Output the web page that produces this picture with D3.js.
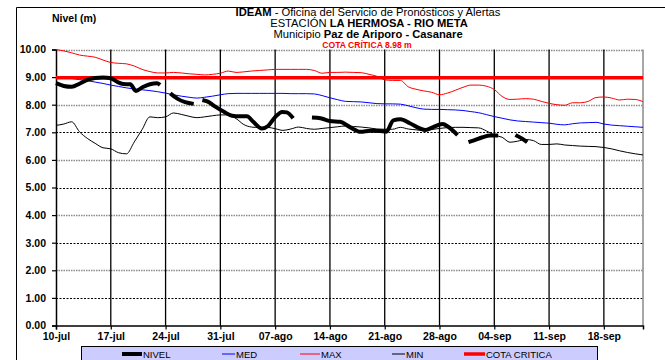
<!DOCTYPE html>
<html><head><meta charset="utf-8">
<script src="https://cdn.jsdelivr.net/npm/d3@7"></script>
<style>
html,body{margin:0;padding:0;background:#fff;}
svg{display:block;font-family:"Liberation Sans",Arial,sans-serif;}
</style></head>
<body>
<svg id="c" width="665" height="360"></svg>
<script>
// ---- data ----
const xTickDays = [0,7,14,21,28,35,42,49,56,63,70];
const xTickLabels = ["10-jul","17-jul","24-jul","31-jul","07-ago","14-ago","21-ago","28-ago","04-sep","11-sep","18-sep"];
const yTicks = [0,1,2,3,4,5,6,7,8,9,10];
const cotaCritica = 8.98;

// daily climatology, day 0 = 10-jul ... day 75 = 23-sep
const maxSeries = [10.00,9.95,9.88,9.80,9.76,9.72,9.62,9.53,9.50,9.48,9.40,9.28,9.20,9.15,9.15,9.17,9.15,9.12,9.10,9.08,
 9.10,9.14,9.22,9.17,9.19,9.22,9.24,9.26,9.28,9.28,9.28,9.28,9.28,9.24,9.14,9.17,9.17,9.18,9.17,9.16,
 9.10,9.03,8.90,8.88,8.88,8.65,8.56,8.50,8.45,8.36,8.42,8.52,8.63,8.71,8.71,8.67,8.55,8.30,8.19,8.20,
 8.22,8.20,8.12,8.05,8.00,7.98,8.07,8.07,8.12,8.26,8.28,8.24,8.17,8.20,8.19,8.11];
const medSeries = [8.98,8.97,8.95,8.91,8.87,8.82,8.77,8.71,8.66,8.61,8.57,8.54,8.51,8.47,8.42,8.36,8.31,8.27,8.24,8.27,
 8.31,8.36,8.40,8.41,8.41,8.41,8.41,8.41,8.41,8.41,8.40,8.40,8.40,8.39,8.33,8.25,8.18,8.12,8.11,8.10,
 8.07,8.04,8.03,8.03,8.02,7.96,7.89,7.84,7.83,7.83,7.82,7.81,7.79,7.75,7.71,7.64,7.57,7.51,7.45,7.41,
 7.39,7.37,7.35,7.33,7.29,7.27,7.31,7.34,7.35,7.36,7.30,7.26,7.24,7.22,7.20,7.18];
const minSeries = [7.25,7.30,7.38,7.02,6.78,6.60,6.44,6.40,6.26,6.22,6.65,7.10,7.56,7.53,7.56,7.70,7.65,7.58,7.53,7.56,
 7.60,7.63,7.63,7.50,7.28,7.19,7.17,7.18,7.13,7.07,7.12,7.19,7.14,7.11,7.14,7.17,7.20,7.23,7.21,7.19,
 7.16,7.12,7.11,7.11,7.18,7.12,7.09,7.06,7.10,7.14,7.17,7.18,7.18,7.17,7.16,7.05,6.90,6.82,6.64,6.68,
 6.74,6.70,6.56,6.56,6.58,6.54,6.52,6.50,6.49,6.48,6.45,6.40,6.33,6.27,6.22,6.18];

// observed level (null = no data)
const nivelDay = [0,1,2,3,4,5,6,7,7.8,8.6,9.5,10.2,11.1,12,12.9,13.3,13.9,
 14.6,15.5,16.5,17.6,18.1,
 18.7,19.4,20.4,21.4,22.5,23.5,24.4,25.2,26.3,27.1,28,28.9,29.5,30.3,31.5,
 32.7,33.8,35,36.3,37.6,38.9,40.2,41.4,42.2,43.1,44,45.2,46.5,47.2,48.1,49.4,50.1,51.3,52,
 52.7,53.5,54.5,55.5,56.5,57.5,
 58.7,59.5,60.2];
const nivelValue = [8.78,8.68,8.65,8.76,8.90,8.97,8.99,8.96,8.83,8.75,8.74,8.50,8.64,8.74,8.78,8.72,null,
 8.41,8.22,8.09,8.03,null,
 8.17,8.11,7.92,7.75,7.60,7.58,7.58,7.38,7.14,7.23,7.55,7.74,7.72,7.51,null,
 7.54,7.51,7.41,7.38,7.18,7.02,7.06,7.05,7.02,7.43,7.47,7.33,7.14,7.08,7.18,7.30,7.20,6.90,null,
 6.64,6.72,6.82,6.88,6.88,null,
 6.90,6.78,6.64];

const legendItems = ["NIVEL","MED","MAX","MIN","COTA CRITICA"];
const legendColors = ["#000000","#0000ff","#ff0000","#000000","#ff0000"];

// ---- drawing ----
const svg = d3.select("#c");
const x = d3.scaleLinear().domain([0,75]).range([56,643]);
const y = d3.scaleLinear().domain([0,10]).range([325.5,49.5]);

// outer frame
svg.append("line").attr("x1",16.5).attr("x2",665).attr("y1",7.5).attr("y2",7.5).attr("stroke","#000").attr("stroke-width",1);
svg.append("line").attr("x1",16.5).attr("x2",16.5).attr("y1",7.5).attr("y2",360).attr("stroke","#000").attr("stroke-width",1);

// horizontal gridlines
svg.append("g").selectAll("line").data(yTicks.filter(d=>d>0)).join("line")
  .attr("x1",x(0)).attr("x2",x(75)).attr("y1",d=>Math.round(y(d))+0.5).attr("y2",d=>Math.round(y(d))+0.5)
  .attr("stroke",d=>d%2===0?"#8a8a8a":"#000")
  .attr("stroke-width",d=>d%2===0?1.6:1)
  .attr("stroke-dasharray",d=>d%2===0?"1.5,1":"2,1.5");

// vertical gridlines
svg.append("g").selectAll("line").data(xTickDays.filter(d=>d>0)).join("line")
  .attr("x1",d=>x(d)).attr("x2",d=>x(d)).attr("y1",y(10)).attr("y2",y(0))
  .attr("stroke","#000").attr("stroke-width",1.3);
// right border
svg.append("line").attr("x1",x(75)).attr("x2",x(75)).attr("y1",y(10)).attr("y2",y(0))
  .attr("stroke","#8a8a8a").attr("stroke-width",1.5);

// axes
const yAxis = d3.axisLeft(y).tickValues(yTicks).tickFormat(d3.format(".2f")).tickSize(4).tickPadding(6);
const gy = svg.append("g").attr("transform",`translate(${x(0)},0)`).call(yAxis);
gy.select(".domain").attr("stroke","#000").attr("stroke-width",1.5);
gy.selectAll(".tick line").attr("stroke","#000").attr("stroke-width",1.2);
gy.selectAll(".tick text").attr("font-size",10.5).attr("font-weight","bold").attr("fill","#000")
  .attr("font-family","Liberation Sans, Arial, sans-serif");

const xAxis = d3.axisBottom(x).tickValues(xTickDays).tickFormat((d,i)=>xTickLabels[i]).tickSize(4).tickPadding(3);
const gx = svg.append("g").attr("transform",`translate(0,${y(0)})`).call(xAxis);
gx.select(".domain").attr("stroke","#000").attr("stroke-width",1.5);
gx.selectAll(".tick line").attr("stroke","#000").attr("stroke-width",1.2);
gx.selectAll(".tick text").attr("font-size",10.5).attr("font-weight","bold").attr("fill","#000")
  .attr("font-family","Liberation Sans, Arial, sans-serif");

// series
const lineGen = d3.line().x(d=>x(d[0])).y(d=>y(d[1])).curve(d3.curveMonotoneX);
const days = d3.range(76);
svg.append("path").datum(days.map(d=>[d,maxSeries[d]])).attr("d",lineGen)
  .attr("fill","none").attr("stroke","#ff0000").attr("stroke-width",1);
svg.append("path").datum(days.map(d=>[d,medSeries[d]])).attr("d",lineGen)
  .attr("fill","none").attr("stroke","#0000ff").attr("stroke-width",1);
svg.append("path").datum(days.map(d=>[d,minSeries[d]])).attr("d",lineGen)
  .attr("fill","none").attr("stroke","#000").attr("stroke-width",1);

svg.append("line").attr("x1",x(0)).attr("x2",x(75)).attr("y1",y(cotaCritica)).attr("y2",y(cotaCritica))
  .attr("stroke","#ff0000").attr("stroke-width",3.5);

const nivelLine = d3.line().defined(d=>d[1]!==null).x(d=>x(d[0])).y(d=>y(d[1])).curve(d3.curveMonotoneX);
svg.append("path").datum(nivelDay.map((d,i)=>[d,nivelValue[i]])).attr("d",nivelLine)
  .attr("fill","none").attr("stroke","#000").attr("stroke-width",4).attr("stroke-linejoin","round");

// titles
const t = svg.append("g").attr("font-size",11.2).attr("fill","#000").attr("text-anchor","middle").style("white-space","pre");
const l1 = t.append("text").attr("x",368).attr("y",16);
l1.append("tspan").attr("font-weight","bold").text("IDEAM");
l1.append("tspan").text(" - Oficina  del Servicio de Pronósticos  y Alertas");
const l2 = t.append("text").attr("x",369).attr("y",27);
l2.append("tspan").text("ESTACIÓN  ");
l2.append("tspan").attr("font-weight","bold").text("LA HERMOSA - RIO META");
const l3 = t.append("text").attr("x",368).attr("y",38);
l3.append("tspan").text("Municipio  ");
l3.append("tspan").attr("font-weight","bold").text("Paz de Ariporo  - Casanare");
t.append("text").attr("x",367).attr("y",47.8).attr("font-size",8.6).attr("font-weight","bold").attr("fill","#ff0000")
  .text("COTA CRÍTICA  8.98 m");
svg.append("text").attr("x",52).attr("y",22).attr("font-size",10.5).attr("font-weight","bold").text("Nivel (m)");

// legend
const lg = svg.append("g");
lg.append("rect").attr("x",81.5).attr("y",346.5).attr("width",516).attr("height",16)
  .attr("fill","#ccccff").attr("stroke","#000").attr("stroke-width",1);
const legX = [122,222,300,392,464];
const legW = [20,13,20,13,21];
const legSW = [4,1,1,1,3.5];
legendItems.forEach((name,i)=>{
  lg.append("line").attr("x1",legX[i]).attr("x2",legX[i]+legW[i]).attr("y1",354).attr("y2",354)
    .attr("stroke",legendColors[i]).attr("stroke-width",legSW[i]);
  lg.append("text").attr("x",legX[i]+legW[i]+1).attr("y",357.5).attr("font-size",9.5).attr("fill","#000").text(name);
});
</script>
</body></html>
